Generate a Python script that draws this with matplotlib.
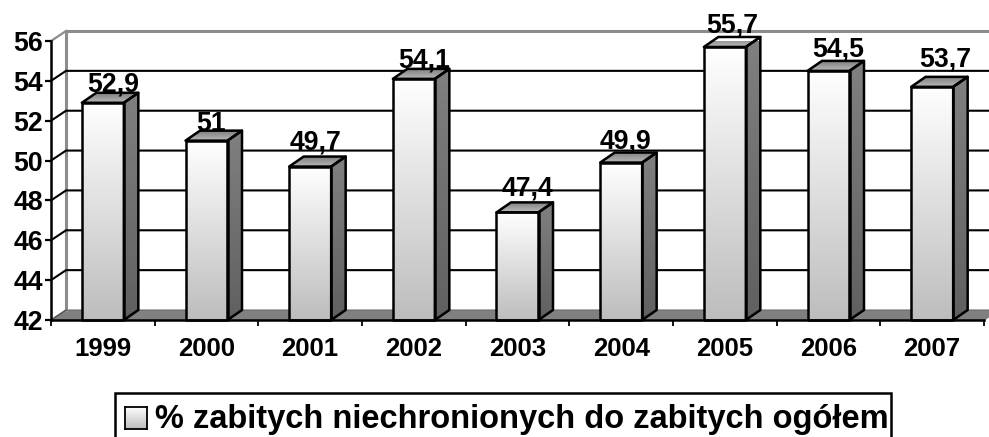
import numpy as np
import matplotlib
matplotlib.use("Agg")
import matplotlib.pyplot as plt
from matplotlib.patches import Polygon, Rectangle
from matplotlib.colors import LinearSegmentedColormap

years = ["1999", "2000", "2001", "2002", "2003", "2004", "2005", "2006", "2007"]
values = [52.9, 51.0, 49.7, 54.1, 47.4, 49.9, 55.7, 54.5, 53.7]
value_labels = ["52,9", "51", "49,7", "54,1", "47,4", "49,9", "55,7", "54,5", "53,7"]
y_ticks = [42, 44, 46, 48, 50, 52, 54, 56]
legend_label = "% zabitych niechronionych do zabitych ogółem"

plt.rcParams["font.family"] = ["Liberation Sans", "DejaVu Sans"]
plt.rcParams["font.weight"] = "bold"

W, H = 989, 437
fig = plt.figure(figsize=(W / 100, H / 100), dpi=100, facecolor="white")
# axes frame in pixels
L, R, T, B = 51, 984, 41, 320
ax = fig.add_axes([L / W, 1 - B / H, (R - L) / W, (B - T) / H])
ax.set_xlim(-0.5, 8.5)
ax.set_ylim(42, 56)
ax.patch.set_visible(False)
for s in ("top", "right"):
    ax.spines[s].set_visible(False)
for s in ("left", "bottom"):
    ax.spines[s].set_linewidth(1.8)
    ax.spines[s].set_zorder(8)

px = (8.5 + 0.5) / (R - L)
py = 14 / (B - T)
DX, DY = 15 * px, 10 * py
BW = 42 * px
BD = 14.5 * px
BH = 10 * py
LW = 1.8

ax.set_xticks(np.arange(-0.5, 9, 1))
ax.set_xticklabels([])
ax.set_yticks(y_ticks)
ax.set_yticklabels([str(t) for t in y_ticks], fontsize=19.2, fontweight="bold")
ax.tick_params(axis="y", length=4.5, width=1.6, pad=1.2)
ax.tick_params(axis="x", length=4.5, width=1.3)
for i, y in enumerate(years):
    ax.text(i, 42 - 36 * py, y, ha="center", va="baseline", fontsize=18.5, fontweight="bold")

# floor
ax.add_patch(Polygon([(-0.5, 42), (-0.5 + DX, 42 + DY), (8.5 + DX, 42 + DY), (8.5, 42)],
                     closed=True, fc="#808080", ec="#6e6e6e", lw=0.8, clip_on=False, zorder=1))
# walls
ax.plot([-0.5 + DX, -0.5 + DX], [42 + DY, 56 + DY], color="#8c8c8c", lw=2.2, clip_on=False, zorder=1.5)
ax.plot([-0.5, -0.5 + DX], [56, 56 + DY], color="#8c8c8c", lw=1.6, clip_on=False, zorder=1.5)
ax.plot([-0.5 + DX, 8.5 + DX], [56 + DY, 56 + DY], color="#8c8c8c", lw=2.2, clip_on=False, zorder=1.5)
for t in y_ticks[1:-1]:
    ax.plot([-0.5, -0.5 + DX, 8.5 + DX], [t, t + DY, t + DY], color="black", lw=1.5,
            clip_on=False, zorder=2)
ax.plot([-0.5, -0.5 + DX], [42, 42 + DY], color="#555555", lw=1, clip_on=False, zorder=2)

front = LinearSegmentedColormap.from_list("front", ["#ffffff", "#bdbdbd"])
side = LinearSegmentedColormap.from_list("side", ["#808080", "#606060"])
cap = LinearSegmentedColormap.from_list("cap", ["#808080", "#bbbbbb"])
grad = np.linspace(0, 1, 256).reshape(-1, 1)

def shaded(poly, cmap, extent):
    im = ax.imshow(grad, cmap=cmap, extent=extent, aspect="auto", origin="upper", zorder=3, clip_on=True)
    p = Polygon(poly, closed=True, transform=ax.transData, fc="none", ec="none")
    ax.add_patch(p)
    im.set_clip_path(p)
    ax.add_patch(Polygon(poly, closed=True, fc="none", ec="black", lw=LW, zorder=4,
                         clip_on=False, joinstyle="round"))

for i, v in enumerate(values):
    x0, x1 = i - BW / 2, i + BW / 2
    shaded([(x0, 42), (x1, 42), (x1, v), (x0, v)], front, (x0, x1, 42, v))
    shaded([(x1, 42), (x1 + BD, 42 + BH), (x1 + BD, v + BH), (x1, v)], side, (x1, x1 + BD, 42, v + BH))
    shaded([(x0, v), (x1, v), (x1 + BD, v + BH), (x0 + BD, v + BH)], cap, (x0, x1 + BD, v, v + BH))

ax.set_xlim(-0.5, 8.5)
ax.set_ylim(42, 56)

# value labels, offsets in pixels relative to bar centre / cap top
lab_dx = [10, 5, 5, 10, 10, 4.5, 7, 10, 13]
lab_dy = [1, 0, 7, 1, 7, 4, 4, 4, 10]
for i, (v, s) in enumerate(zip(values, value_labels)):
    ax.text(i + lab_dx[i] * px, v + BH + lab_dy[i] * py, s, ha="center", va="baseline",
            fontsize=19.2, fontweight="bold", zorder=6, clip_on=False)

# legend (its lower edge runs off the picture)
box = Rectangle((115 / W, -10 / H), (891 - 115) / W, (437 + 10 - 393) / H, transform=fig.transFigure,
                fc="white", ec="black", lw=1.8, zorder=1)
fig.add_artist(box)
kax = fig.add_axes([125 / W, 1 - 429 / H, 22 / W, 22 / H], zorder=5)
kax.imshow(grad, cmap=front, aspect="auto")
kax.set_xticks([]); kax.set_yticks([])
for s in kax.spines.values():
    s.set_linewidth(1.3)
fig.text(155 / W, 1 - 428 / H, legend_label, ha="left", va="baseline", fontsize=23.5, fontweight="bold", zorder=6)

fig.savefig("out.png", dpi=100)
